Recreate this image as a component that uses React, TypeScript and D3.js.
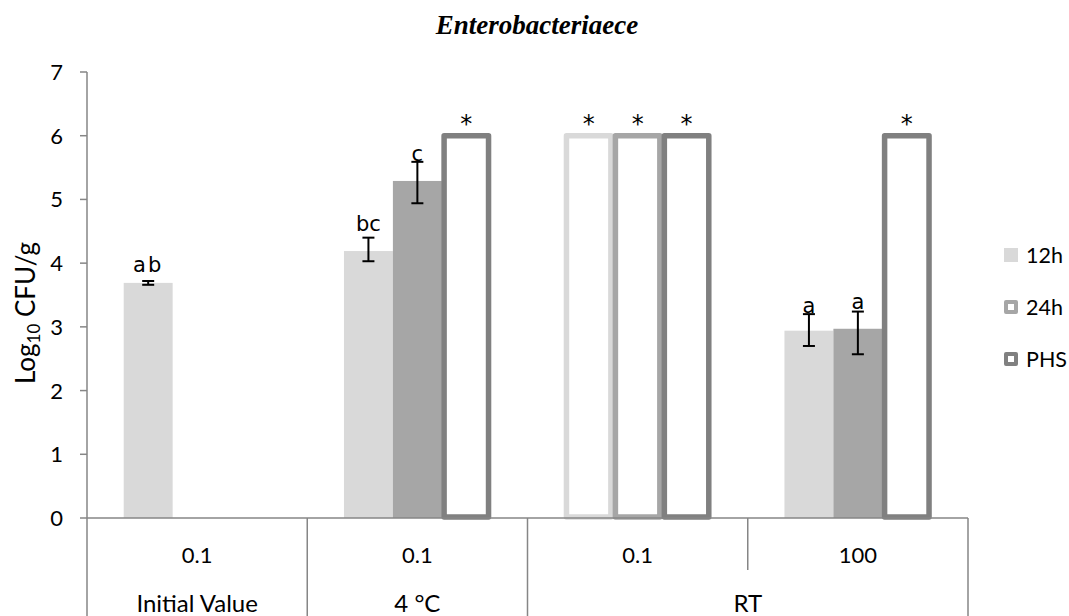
import React from "react";
import * as d3 from "d3";

const categories = ["ini", "c4", "rt01", "rt100"];
const row1Labels = ["0.1", "0.1", "0.1", "100"];
const row2Groups = [
  { label: "Initial Value", from: 0, span: 1 },
  { label: "4 °C", from: 1, span: 1 },
  { label: "RT", from: 2, span: 2 },
];
const seriesNames = ["12h", "24h", "PHS"];
const seriesColors = ["#D9D9D9", "#A6A6A6", "#808080"];
const values12h = [3.69, 4.19, 6, 2.94];
const values24h = [null, 5.29, 6, 2.97];
const valuesPHS = [null, 6, 6, 6];
const errHigh12h = [3.72, 4.4, null, 3.2];
const errLow12h = [3.66, 4.03, null, 2.7];
const errHigh24h = [null, 5.59, null, 3.24];
const errLow24h = [null, 4.94, null, 2.57];
const labels12h = ["ab", "bc", "*", "a"];
const labels24h = ["", "c", "*", "a"];
const labelsPHS = ["", "*", "*", "*"];
const labelPos12h = [3.86, 4.5, 6, 3.22];
const labelPos24h = [null, 5.6, 6, 3.28];
const labelPosPHS = [null, 6, 6, 6];
const yTicks = [0, 1, 2, 3, 4, 5, 6, 7];

const W = 1069;
const H = 616;
const FONT = "Lato, 'Noto Sans', sans-serif";
const LFONT = "'DejaVu Sans', sans-serif";

export default function App() {
  const left = 87, right = 968, top = 72, base = 518;
  const x0 = d3.scaleBand().domain(categories).range([left, right]).paddingInner(0).paddingOuter(0);
  const x1 = d3.scaleBand().domain(seriesNames).range([0, x0.bandwidth()]).paddingInner(0).paddingOuter(0.75);
  const y = d3.scaleLinear().domain([0, 7]).range([base, top]);

  const vals = [values12h, values24h, valuesPHS];
  const eh = [errHigh12h, errHigh24h, null];
  const el = [errLow12h, errLow24h, null];
  const labs = [labels12h, labels24h, labelsPHS];
  const lpos = [labelPos12h, labelPos24h, labelPosPHS];
  const axisColor = "#868686";
  const sw = 5.5;

  return (
    <svg width={W} height={H} style={{ position: "absolute", left: 0, top: 0 }}>
      <rect x={0} y={0} width={W} height={H} fill="#fff" />
      <text x={537} y={34} textAnchor="middle" fontFamily="'Liberation Serif', 'Times New Roman', serif" fontWeight="bold" fontStyle="italic" fontSize={27}>Enterobacteriaece</text>

      {/* y ticks */}
      {yTicks.map((t) => (
        <g key={t}>
          <line x1={80} x2={left} y1={y(t)} y2={y(t)} stroke={axisColor} strokeWidth={1.5} />
          <text x={63} y={y(t) + 8} textAnchor="end" fontFamily={FONT} fontSize={22} fill="#000">{t}</text>
        </g>
      ))}

      {/* y title */}
      <text transform={`translate(35,313) rotate(-90)`} textAnchor="middle" fontFamily={FONT} fontSize={26} fill="#000">
        Log<tspan fontSize={17} dy={5}>10</tspan><tspan dy={-5}> CFU/g</tspan>
      </text>

      {/* bars */}
      {seriesNames.map((s, si) =>
        categories.map((c, ci) => {
          const v = vals[si][ci];
          if (v == null) return null;
          const bx = (x0(c) as number) + (x1(s) as number);
          const bw = x1.bandwidth();
          const outline = labs[si][ci] === "*";
          if (outline) {
            return (
              <rect key={s + c} x={bx + sw / 2 - 0.5} y={y(v)} width={bw - sw + 1} height={base - y(v) - 1}
                fill="#fff" stroke={seriesColors[si]} strokeWidth={sw} strokeLinejoin="round" />
            );
          }
          return <rect key={s + c} x={bx} y={y(v)} width={bw} height={base - y(v)} fill={seriesColors[si]} />;
        })
      )}

      {/* error bars */}
      {seriesNames.map((s, si) =>
        categories.map((c, ci) => {
          const hi = eh[si] ? eh[si]![ci] : null;
          const lo = el[si] ? el[si]![ci] : null;
          if (hi == null || lo == null) return null;
          const cx = (x0(c) as number) + (x1(s) as number) + x1.bandwidth() / 2;
          return (
            <g key={"e" + s + c} stroke="#000" strokeWidth={2}>
              <line x1={cx} x2={cx} y1={y(hi)} y2={y(lo)} />
              <line x1={cx - 6} x2={cx + 6} y1={y(hi)} y2={y(hi)} />
              <line x1={cx - 6} x2={cx + 6} y1={y(lo)} y2={y(lo)} />
            </g>
          );
        })
      )}

      {/* letter labels */}
      {seriesNames.map((s, si) =>
        categories.map((c, ci) => {
          const l = labs[si][ci];
          const p = lpos[si][ci];
          if (!l || p == null) return null;
          const cx = (x0(c) as number) + (x1(s) as number) + x1.bandwidth() / 2;
          const star = l === "*";
          return (
            <text key={"l" + s + c} x={cx} y={star ? y(p) - 4 : y(p)} textAnchor="middle" fontFamily={LFONT}
              fontSize={star ? 24 : 21} letterSpacing={l === "ab" ? 2 : 0} fill="#000">{l}</text>
          );
        })
      )}

      {/* axes */}
      <line x1={left} x2={left} y1={top} y2={H} stroke={axisColor} strokeWidth={1.5} />
      <line x1={left} x2={right} y1={base} y2={base} stroke={axisColor} strokeWidth={1.5} />
      <line x1={right} x2={right} y1={base} y2={H} stroke={axisColor} strokeWidth={1.5} />
      {categories.map((c, ci) => {
        if (ci === 0) return null;
        const xx = x0(c) as number;
        const isGroupStart = row2Groups.some((g) => g.from === ci);
        return <line key={"d" + c} x1={xx} x2={xx} y1={base} y2={isGroupStart ? H : 570} stroke={axisColor} strokeWidth={1.5} />;
      })}
      {categories.map((c, ci) => (
        <text key={"r1" + c} x={(x0(c) as number) + x0.bandwidth() / 2} y={563} textAnchor="middle" fontFamily={FONT} fontSize={22} fill="#000">{row1Labels[ci]}</text>
      ))}
      {row2Groups.map((g) => {
        const x = (x0(categories[g.from]) as number) + (x0.bandwidth() * g.span) / 2;
        return <text key={"r2" + g.label} x={x} y={612} textAnchor="middle" fontFamily={FONT} fontSize={24} fill="#000">{g.label}</text>;
      })}

      {/* legend */}
      {seriesNames.map((s, si) => {
        const cy = 255 + si * 52;
        return (
          <g key={"lg" + s}>
            {si === 0 ? (
              <rect x={1004} y={cy - 7} width={14} height={14} fill={seriesColors[si]} />
            ) : (
              <rect x={1006} y={cy - 5} width={10} height={10} fill="#fff" stroke={seriesColors[si]} strokeWidth={4} strokeLinejoin="round" />
            )}
            <text x={1026} y={cy + 8} fontFamily={FONT} fontSize={21.5} fill="#000">{s}</text>
          </g>
        );
      })}
    </svg>
  );
}
